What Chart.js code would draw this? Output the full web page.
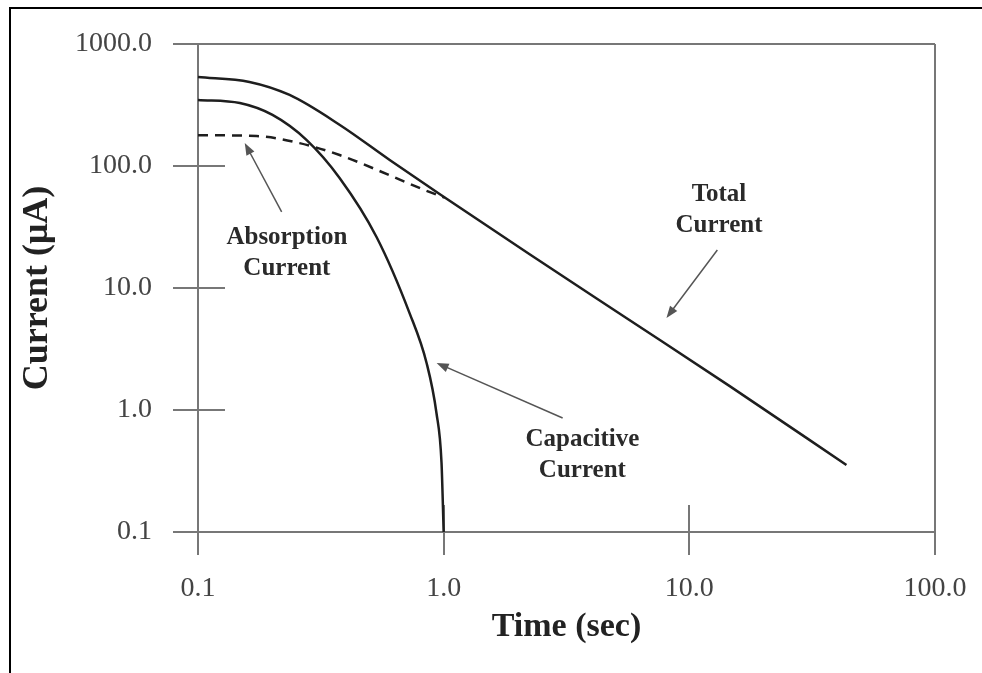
<!DOCTYPE html>
<html>
<head>
<meta charset="utf-8">
<script src="https://cdn.jsdelivr.net/npm/chart.js@4.4.1/dist/chart.umd.min.js"></script>
<style>
  html, body { margin: 0; padding: 0; background: #fff; }
  #wrap { position: relative; width: 982px; height: 673px; overflow: hidden; }
  #frame { position: absolute; left: 9px; top: 7px; width: 1000px; height: 700px; border: 2px solid #000; }
  canvas { position: absolute; left: 0; top: 0; }
</style>
</head>
<body>
<div id="wrap">
  <div id="frame"></div>
  <canvas id="myChart" width="982" height="673"></canvas>
</div>
<script>
// values (time in s, current in µA)
const totalT = [0.1, 0.162, 0.236, 0.378, 0.603, 0.962, 2.23, 5.7, 14.6, 43.6];
const totalI = [537, 489, 382, 217, 112, 58.9, 19.0, 5.47, 1.57, 0.354];

const capT = [0.1, 0.148, 0.201, 0.277, 0.377, 0.533, 0.727, 0.852, 0.935, 0.98, 1.0];
const capI = [348, 328, 262, 163, 79.8, 26.2, 6.2, 2.43, 0.94, 0.37, 0.1];

const absT = [0.1, 0.173, 0.259, 0.377, 0.603, 0.836, 1.01];
const absI = [179, 176, 154, 123, 84, 63.5, 55];

const timeTicks = [0.1, 1, 10, 100];
const currentTicks = [0.1, 1, 10, 100, 1000];

// callouts: label centre, arrow tail, arrow head (data coords)
const noteText = [['Absorption', 'Current'], ['Total', 'Current'], ['Capacitive', 'Current']];
const noteAt = [[0.23, 25.7], [13.2, 57.8], [3.67, 0.568]];
const arrowFrom = [[0.219, 42.0], [13.0, 20.5], [3.05, 0.86]];
const arrowTo = [[0.155, 154.5], [8.07, 5.68], [0.936, 2.43]];

const serif = "'Liberation Serif', 'Times New Roman', serif";
const toXY = (ts, is) => ts.map((t, i) => ({ x: t, y: is[i] }));

const axesCross = {
  id: 'axesCross',
  beforeDatasetsDraw(chart) {
    const { ctx, chartArea: a, scales: { x, y } } = chart;
    ctx.save();
    ctx.strokeStyle = '#777';
    ctx.lineWidth = 2;
    ctx.beginPath();
    y.ticks.forEach((t, i) => {
      const py = Math.round(y.getPixelForValue(t.value));
      const edge = i === 0 || i === y.ticks.length - 1;
      ctx.moveTo(a.left - 25, py);
      ctx.lineTo(edge ? a.right : a.left + 27, py);
    });
    x.ticks.forEach((t, i) => {
      const px = Math.round(x.getPixelForValue(t.value));
      const edge = i === 0 || i === x.ticks.length - 1;
      ctx.moveTo(px, edge ? a.top : a.bottom - 27);
      ctx.lineTo(px, a.bottom + 23);
    });
    ctx.stroke();
    ctx.restore();
  },
  afterDraw(chart) {
    const { ctx, scales: { x, y } } = chart;
    ctx.save();
    // arrows
    ctx.strokeStyle = '#555';
    ctx.fillStyle = '#555';
    ctx.lineWidth = 1.5;
    arrowFrom.forEach((f, k) => {
      const x0 = x.getPixelForValue(f[0]), y0 = y.getPixelForValue(f[1]);
      const x1 = x.getPixelForValue(arrowTo[k][0]), y1 = y.getPixelForValue(arrowTo[k][1]);
      const ang = Math.atan2(y1 - y0, x1 - x0);
      ctx.beginPath();
      ctx.moveTo(x0, y0);
      ctx.lineTo(x1 - 8 * Math.cos(ang), y1 - 8 * Math.sin(ang));
      ctx.stroke();
      ctx.beginPath();
      ctx.moveTo(x1, y1);
      ctx.lineTo(x1 - 12 * Math.cos(ang) + 4.5 * Math.sin(ang), y1 - 12 * Math.sin(ang) - 4.5 * Math.cos(ang));
      ctx.lineTo(x1 - 12 * Math.cos(ang) - 4.5 * Math.sin(ang), y1 - 12 * Math.sin(ang) + 4.5 * Math.cos(ang));
      ctx.closePath();
      ctx.fill();
    });
    // labels
    ctx.fillStyle = '#2a2a2a';
    ctx.font = 'bold 25px ' + serif;
    ctx.textAlign = 'center';
    ctx.textBaseline = 'middle';
    noteText.forEach((lines, k) => {
      const px = x.getPixelForValue(noteAt[k][0]);
      const py = y.getPixelForValue(noteAt[k][1]);
      lines.forEach((s, j) => ctx.fillText(s, px, py + j * 31));
    });
    ctx.restore();
  }
};

const lineStyle = { borderColor: '#1e1e1e', borderWidth: 2.5, pointRadius: 0, fill: false, cubicInterpolationMode: 'monotone' };

new Chart(document.getElementById('myChart').getContext('2d'), {
  type: 'scatter',
  data: {
    datasets: [
      { label: 'Total Current', data: toXY(totalT, totalI), showLine: true, ...lineStyle },
      { label: 'Capacitive Current', data: toXY(capT, capI), showLine: true, ...lineStyle },
      { label: 'Absorption Current', data: toXY(absT, absI), showLine: true, ...lineStyle, borderDash: [10, 7] },
    ],
  },
  options: {
    responsive: false,
    animation: false,
    clip: false,
    layout: { padding: { left: 0, top: 44, right: 47, bottom: 0 } },
    plugins: { legend: { display: false }, tooltip: { enabled: false } },
    scales: {
      x: {
        type: 'logarithmic',
        min: 0.1,
        max: 100,
        afterBuildTicks: (s) => { s.ticks = timeTicks.map((v) => ({ value: v })); },
        afterFit: (s) => { s.height = 141; s.paddingLeft = 0; s.paddingRight = 0; },
        grid: { display: false, drawTicks: false },
        border: { display: false },
        ticks: {
          padding: 40, autoSkip: false, maxRotation: 0, color: '#444',
          font: { family: serif, size: 28 },
          callback: (v) => Number(v).toFixed(1),
        },
        title: {
          display: true, text: 'Time (sec)', color: '#222',
          font: { family: serif, size: 34, weight: 'bold' },
          padding: { top: 0, bottom: 25 },
        },
      },
      y: {
        type: 'logarithmic',
        min: 0.1,
        max: 1000,
        afterBuildTicks: (s) => { s.ticks = currentTicks.map((v) => ({ value: v })); },
        afterFit: (s) => { s.width = 198; s.paddingTop = 0; s.paddingBottom = 0; },
        grid: { display: false, drawTicks: false },
        border: { display: false },
        ticks: {
          padding: 46, autoSkip: false, color: '#444',
          font: { family: serif, size: 28 },
          callback: (v) => Number(v).toFixed(1),
        },
        title: {
          display: true, text: 'Current (μA)', color: '#222',
          font: { family: serif, size: 36, weight: 'bold' },
          padding: { top: 16, bottom: 0 },
        },
      },
    },
  },
  plugins: [axesCross],
});
</script>
</body>
</html>
